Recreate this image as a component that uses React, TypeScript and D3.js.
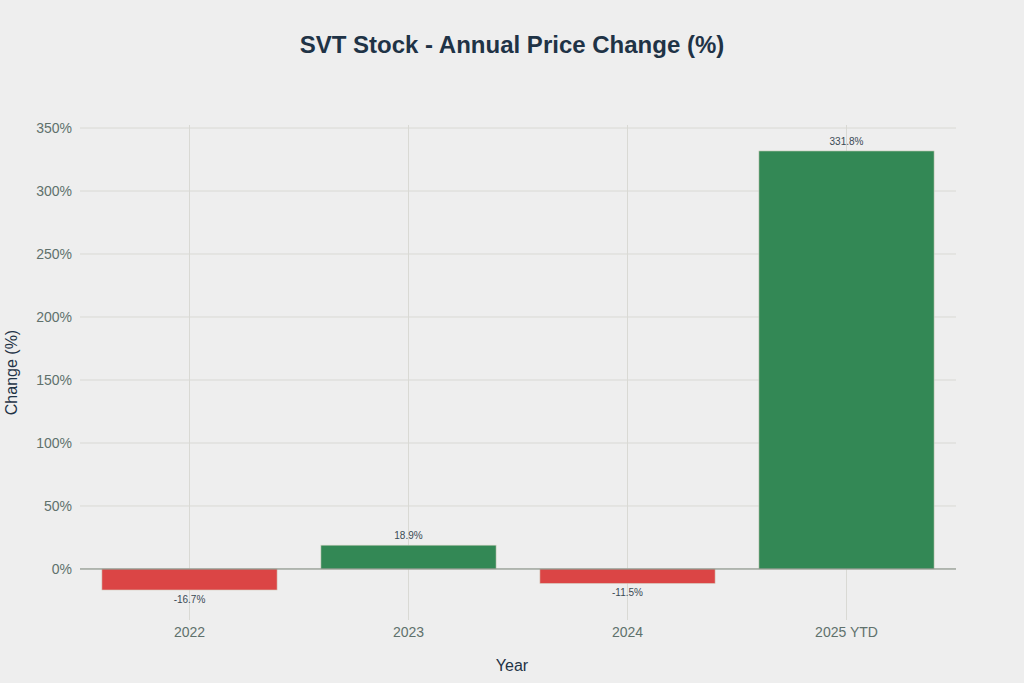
import React from 'react';
import * as d3 from 'd3';

const years = ['2022', '2023', '2024', '2025 YTD'];
const changes = [-16.7, 18.9, -11.5, 331.8];
const yTicks = [0, 50, 100, 150, 200, 250, 300, 350];

const WIDTH = 1024;
const HEIGHT = 683;
const margin = { top: 125, right: 68, bottom: 63, left: 80 };
const FONT = '"Liberation Sans", Arial, sans-serif';

export default function App(): JSX.Element {
  const x = d3
    .scaleBand()
    .domain(years)
    .range([margin.left, WIDTH - margin.right])
    .paddingInner(0.2)
    .paddingOuter(0.1);
  const y = d3
    .scaleLinear()
    .domain([-40.5, 352.4])
    .range([HEIGHT - margin.bottom, margin.top]);

  const plotLeft = margin.left;
  const plotRight = WIDTH - margin.right;

  return (
    <svg
      width={WIDTH}
      height={HEIGHT}
      style={{ display: 'block', position: 'absolute', left: 0, top: 0 }}
      fontFamily={FONT}
    >
      <rect width={WIDTH} height={HEIGHT} fill="#eeeeee" />
      <text x={512} y={53} textAnchor="middle" fontSize={24} fill="#1f3346" fontWeight={600}>
        SVT Stock - Annual Price Change (%)
      </text>
      {/* grid */}
      {yTicks.map((t) => (
        <line key={t} x1={plotLeft} x2={plotRight} y1={y(t)} y2={y(t)} stroke="#d9d9d4" strokeWidth={1} />
      ))}
      {years.map((c) => {
        const cx = (x(c) as number) + x.bandwidth() / 2;
        return (
          <line key={c} x1={cx} x2={cx} y1={margin.top} y2={HEIGHT - margin.bottom} stroke="#d9d9d4" strokeWidth={1} />
        );
      })}
      {/* bars */}
      {years.map((c, i) => {
        const v = changes[i];
        const y0 = y(0);
        const yv = y(v);
        return (
          <rect
            key={c}
            x={x(c)}
            y={Math.min(y0, yv)}
            width={x.bandwidth()}
            height={Math.abs(yv - y0)}
            fill={v < 0 ? '#db4545' : '#338855'}
            stroke="#d6d3c4"
            strokeWidth={0.6}
          />
        );
      })}
      <line x1={plotLeft} x2={plotRight} y1={y(0)} y2={y(0)} stroke="#7f8a80" strokeWidth={1} />
      {/* value labels */}
      {years.map((c, i) => {
        const v = changes[i];
        const cx = (x(c) as number) + x.bandwidth() / 2;
        return (
          <text
            key={c}
            x={cx}
            y={v < 0 ? y(v) + 13 : y(v) - 6}
            textAnchor="middle"
            fontSize={10}
            fill="#3a4a55"
          >
            {v.toFixed(1)}%
          </text>
        );
      })}
      {/* y tick labels */}
      {yTicks.map((t) => (
        <text key={t} x={plotLeft - 8} y={y(t) + 5} textAnchor="end" fontSize={14} fill="#60716c">
          {t}%
        </text>
      ))}
      {/* x tick labels */}
      {years.map((c) => (
        <text
          key={c}
          x={(x(c) as number) + x.bandwidth() / 2}
          y={637}
          textAnchor="middle"
          fontSize={14}
          fill="#60716c"
        >
          {c}
        </text>
      ))}
      <text x={512} y={671} textAnchor="middle" fontSize={16} fill="#1f3346">
        Year
      </text>
      <text
        transform={`translate(17, ${(margin.top + HEIGHT - margin.bottom) / 2}) rotate(-90)`}
        textAnchor="middle"
        fontSize={16}
        fill="#1f3346"
      >
        Change (%)
      </text>
    </svg>
  );
}
